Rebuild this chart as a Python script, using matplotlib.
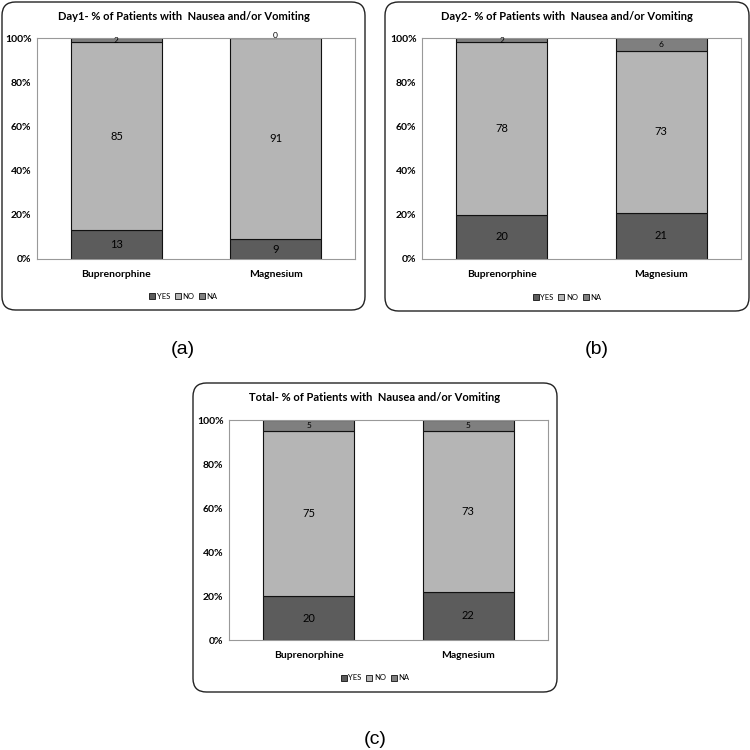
import numpy as np
import matplotlib
matplotlib.use('Agg')
import matplotlib.pyplot as plt
from matplotlib.patches import FancyBboxPatch, Patch
from matplotlib.ticker import PercentFormatter

plt.rcParams['font.family'] = ['Lato', 'DejaVu Sans']

groups = ['Buprenorphine', 'Magnesium']
series = ['YES', 'NO', 'NA']

day1_yes = [13, 9]
day1_no = [85, 91]
day1_na = [2, 0]

day2_yes = [20, 21]
day2_no = [78, 73]
day2_na = [2, 6]

total_yes = [20, 22]
total_no = [75, 73]
total_na = [5, 5]

titles = ['Day1- % of Patients with  Nausea and/or Vomiting',
          'Day2- % of Patients with  Nausea and/or Vomiting',
          'Total- % of Patients with  Nausea and/or Vomiting']
panel_labels = ['(a)', '(b)', '(c)']

colors = ['#5c5c5c', '#b5b5b5', '#7f7f7f']

W = 750.0
H = 750.0

fig = plt.figure(figsize=(7.5, 7.5), dpi=100)


def px_box(x0, y0, x1, y1):
    # pixel (top-left origin) -> figure fraction rect
    return [x0 / W, 1 - y1 / H, (x1 - x0) / W, (y1 - y0) / H]


def draw_panel(box, axbox, title, yes, no, na, label, label_xy):
    bx = px_box(*box)
    frame = FancyBboxPatch((bx[0], bx[1]), bx[2], bx[3],
                           boxstyle='round,pad=0,rounding_size=0.018',
                           transform=fig.transFigure, facecolor='none',
                           edgecolor='#222222', linewidth=1.0, zorder=0)
    fig.patches.append(frame)

    ax = fig.add_axes(px_box(*axbox))
    ax.set_zorder(2)
    x = np.arange(len(groups))
    w = 0.57
    yes = np.array(yes)
    no = np.array(no)
    na = np.array(na)
    ax.bar(x, yes, w, color=colors[0], edgecolor='#111111', linewidth=0.8, label=series[0])
    ax.bar(x, no, w, bottom=yes, color=colors[1], edgecolor='#111111', linewidth=0.8, label=series[1])
    ax.bar(x, na, w, bottom=yes + no, color=colors[2], edgecolor='#111111', linewidth=0.8, label=series[2])

    for i in range(len(groups)):
        ax.text(x[i], yes[i] / 2, str(yes[i]), ha='center', va='center', fontsize=8)
        ax.text(x[i], yes[i] + no[i] / 2, str(no[i]), ha='center', va='center', fontsize=8)
        top = yes[i] + no[i]
        ax.text(x[i], top + max(na[i], 2) / 2, str(na[i]), ha='center', va='center', fontsize=6)

    ax.set_xlim(-0.5, 1.5)
    ax.set_ylim(0, 100)
    ax.set_yticks([0, 20, 40, 60, 80, 100])
    ax.yaxis.set_major_formatter(PercentFormatter(decimals=0))
    ax.set_xticks(x)
    ax.set_xticklabels(groups, fontsize=7.5, fontweight='bold')
    ax.tick_params(axis='y', labelsize=7.5, length=0, pad=4)
    ax.tick_params(axis='x', length=0, pad=8)
    for lab in ax.get_yticklabels():
        lab.set_fontweight('bold')
    for s in ax.spines.values():
        s.set_color('#999999')
        s.set_linewidth(0.8)

    cx = (box[0] + box[2]) / 2 / W
    fig.text(cx, 1 - (box[1] + 15) / H, title, ha='center', va='center',
             fontsize=8, fontweight='bold')

    handles = [Patch(facecolor=colors[k], edgecolor='#111111', linewidth=0.6, label=series[k])
               for k in range(3)]
    fig.legend(handles=handles, loc='center', ncol=3,
               bbox_to_anchor=(cx, 1 - (box[3] - 14) / H), frameon=False,
               fontsize=5.5, handlelength=0.8, handleheight=0.8,
               handletextpad=0.2, columnspacing=0.6)

    fig.text(label_xy[0] / W, 1 - label_xy[1] / H, label, ha='center', va='center',
             fontsize=14, family=['Liberation Sans', 'DejaVu Sans'])


draw_panel((2, 2, 365, 310), (37, 38, 355, 259), titles[0],
           day1_yes, day1_no, day1_na, panel_labels[0], (183, 350))
draw_panel((385, 2, 749, 311), (422, 38, 741, 259), titles[1],
           day2_yes, day2_no, day2_na, panel_labels[1], (597, 350))
draw_panel((193, 383, 557, 692), (229, 420, 548, 640), titles[2],
           total_yes, total_no, total_na, panel_labels[2], (375, 740))

fig.savefig('out.png', dpi=100)
